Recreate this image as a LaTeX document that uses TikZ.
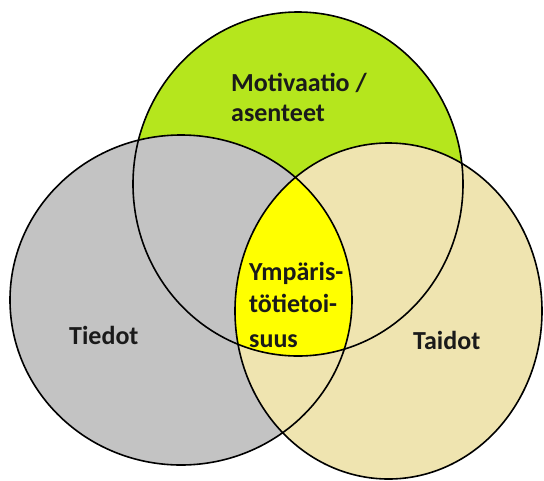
\documentclass[tikz,border=0pt]{standalone}
\usepackage{fontspec}
\setmainfont{Carlito}
\definecolor{limefill}{HTML}{B5E61D}
\definecolor{grayfill}{HTML}{C3C3C3}
\definecolor{tanfill}{HTML}{EFE4B0}
\definecolor{corefill}{HTML}{FFFF00}
\definecolor{inktext}{HTML}{1A1A1A}
\begin{document}
\begin{tikzpicture}[x=1pt,y=-1pt,
  outline/.style={draw=black,line width=1.6pt},
  lbl/.style={inner sep=0pt,anchor=base west,text=inktext,
    font=\fontsize{26}{30}\selectfont\bfseries}]
\useasboundingbox (0,0) rectangle (544,480);
\def\topset{(298,184) ellipse [x radius=165pt,y radius=172pt]}
\def\leftset{(181,300) ellipse [x radius=171pt,y radius=165pt]}
\def\rightset{(388.5,311) ellipse [x radius=153.5pt,y radius=168pt]}
% filled sets, later ones covering the earlier ones
\fill[limefill] \topset;
\fill[grayfill] \leftset;
\fill[tanfill] \rightset;
% common part of all three sets
\begin{scope}
  \clip \topset;
  \clip \leftset;
  \fill[corefill] \rightset;
\end{scope}
% labels
\node[lbl] (mot1) at (231,91) {Motivaatio /};
\node[lbl] (mot2) at (231,121.5) {asenteet};
\node[lbl] (tiedot) at (69,344) {Tiedot};
\node[lbl] (taidot) at (413,349) {Taidot};
\node[lbl] (ymp1) at (249,280) {Ympäris-};
\node[lbl] (ymp2) at (249,312.5) {tötietoi-};
\node[lbl] (ymp3) at (249,347) {suus};
% outlines
\draw[outline] \topset;
\draw[outline] \leftset;
\draw[outline] \rightset;
\end{tikzpicture}
\end{document}
